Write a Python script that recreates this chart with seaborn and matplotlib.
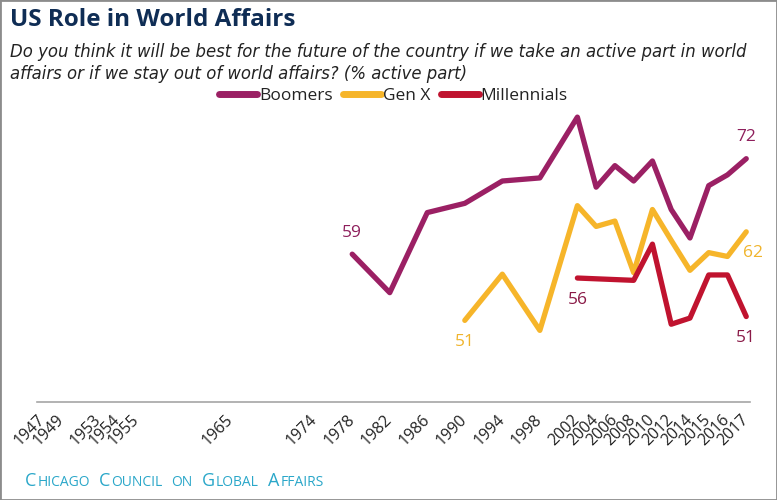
import numpy as np
import pandas as pd
import matplotlib
matplotlib.use('Agg')
import matplotlib.pyplot as plt
import seaborn as sns
from matplotlib.patches import Rectangle

nan = np.nan

# survey years shown on the axis
years = [1947, 1949, 1953, 1954, 1955, 1965, 1974, 1978, 1982, 1986, 1990, 1994,
         1998, 2002, 2004, 2006, 2008, 2010, 2012, 2014, 2015, 2016, 2017]

# % saying "active part"
boomers = [nan] * 7 + [59.2, 54.2, 64.6, 65.8, 68.7, 69.1, 77.0, 67.9, 70.7,
                       68.7, 71.3, 65.0, 61.3, 68.1, 69.5, 71.6]
gen_x = [nan] * 10 + [50.6, 56.6, 49.3, 65.5, 62.8, 63.5, 56.8, 65.0, 61.0,
                      57.1, 59.4, 58.9, 62.1]
millennials = [nan] * 13 + [56.1, nan, nan, 55.8, 60.5, 50.1, 50.9, 56.5, 56.5, 51.1]

generations = ['Boomers', 'Gen X', 'Millennials']
colors = {'Boomers': '#9b2064', 'Gen X': '#f6b52a', 'Millennials': '#c0132f'}

# end labels: (generation, year, text)
end_labels = [('Boomers', 1978, '59'), ('Boomers', 2017, '72'),
              ('Gen X', 1990, '51'), ('Gen X', 2017, '62'),
              ('Millennials', 2002, '56'), ('Millennials', 2017, '51')]

# axis spacing: single-year steps get the same width as two-year steps
pos = np.concatenate([[0], np.cumsum(np.maximum(np.diff(years), 2))])

rows = []
for gen, vals in zip(generations, [boomers, gen_x, millennials]):
    for y, p, v in zip(years, pos, vals):
        rows.append([y, p, gen, v])
df = pd.DataFrame(rows, columns=['year', 'pos', 'generation', 'value']).dropna()

sns.set_style('white')
plt.rcParams['font.family'] = ['Open Sans', 'DejaVu Sans']

fig = plt.figure(figsize=(7.77, 5.0), dpi=100)
ax = fig.add_axes([37 / 777, 1 - 402 / 500, (750 - 37) / 777, (402 - 94) / 500])

sns.lineplot(data=df, x='pos', y='value', hue='generation', hue_order=generations,
             palette=colors, linewidth=3.8, ax=ax, sort=True,
             solid_joinstyle='round', solid_capstyle='round')

ax.set_xlim(-0.6, 75.4)
ax.set_ylim(40, 80)
ax.set_xlabel('')
ax.set_ylabel('')
ax.set_yticks([])
ax.set_xticks(pos)
ax.set_xticklabels([str(y) for y in years], rotation=45, ha='right', va='center',
                   rotation_mode='anchor', fontsize=11.5, color='#222222')
ax.tick_params(axis='x', length=0, pad=11)
for s in ['top', 'right', 'left']:
    ax.spines[s].set_visible(False)
ax.spines['bottom'].set_color('#a6a6a6')
ax.spines['bottom'].set_linewidth(1.2)

# value labels
label_colors = {'Boomers': '#8e1f5c', 'Gen X': '#f0b42c', 'Millennials': '#8a1a47'}
for gen, yr, txt in end_labels:
    r = df[(df.generation == gen) & (df.year == yr)].iloc[0]
    if gen == 'Boomers':
        off = (0, 15.5)
    elif gen == 'Gen X' and yr == 2017:
        off = (5, -15)
    else:
        off = (0, -15.5)
    ax.annotate(txt, (r.pos, r.value), xytext=off, textcoords='offset points',
                ha='center', va='center', fontsize=12.5, color=label_colors[gen])

leg = ax.legend(loc='center', bbox_to_anchor=(0.5, 1 - 2 / 308), ncol=3, frameon=False,
                fontsize=12.5, handlelength=2.2, handletextpad=0.1, columnspacing=0.6,
                borderaxespad=0)
for h in leg.legend_handles:
    h.set_linewidth(5)
for t in leg.get_texts():
    t.set_color('#222222')

fig.text(10 / 777, 1 - 20 / 500, 'US Role in World Affairs', fontsize=17.5,
         fontweight='bold', color='#0f2d55', va='center', ha='left')
fig.text(10 / 777, 1 - 63 / 500,
         'Do you think it will be best for the future of the country if we take an active part in world\n'
         'affairs or if we stay out of world affairs? (% active part)',
         fontsize=11.9, style='italic', color='#222222', va='center', ha='left',
         linespacing=1.35, family=['DejaVu Sans'])

# footer in small caps
teal = '#2aa7c9'
renderer = fig.canvas.get_renderer()
x = 25
for word in 'Chicago Council on Global Affairs'.split():
    parts = [(word[0], 13), (word[1:].upper(), 10)] if word[0].isupper() else [(word.upper(), 10)]
    for part, size in parts:
        t = fig.text(x / 777, 14 / 500, part, fontsize=size, color=teal, va='baseline', ha='left')
        x = t.get_window_extent(renderer).x1 + 1
    x += 8

fig.patches.append(Rectangle((0, 0), 1, 1, transform=fig.transFigure, fill=False,
                             edgecolor='#8c8c8c', linewidth=2))

fig.savefig('out.png', dpi=100)
